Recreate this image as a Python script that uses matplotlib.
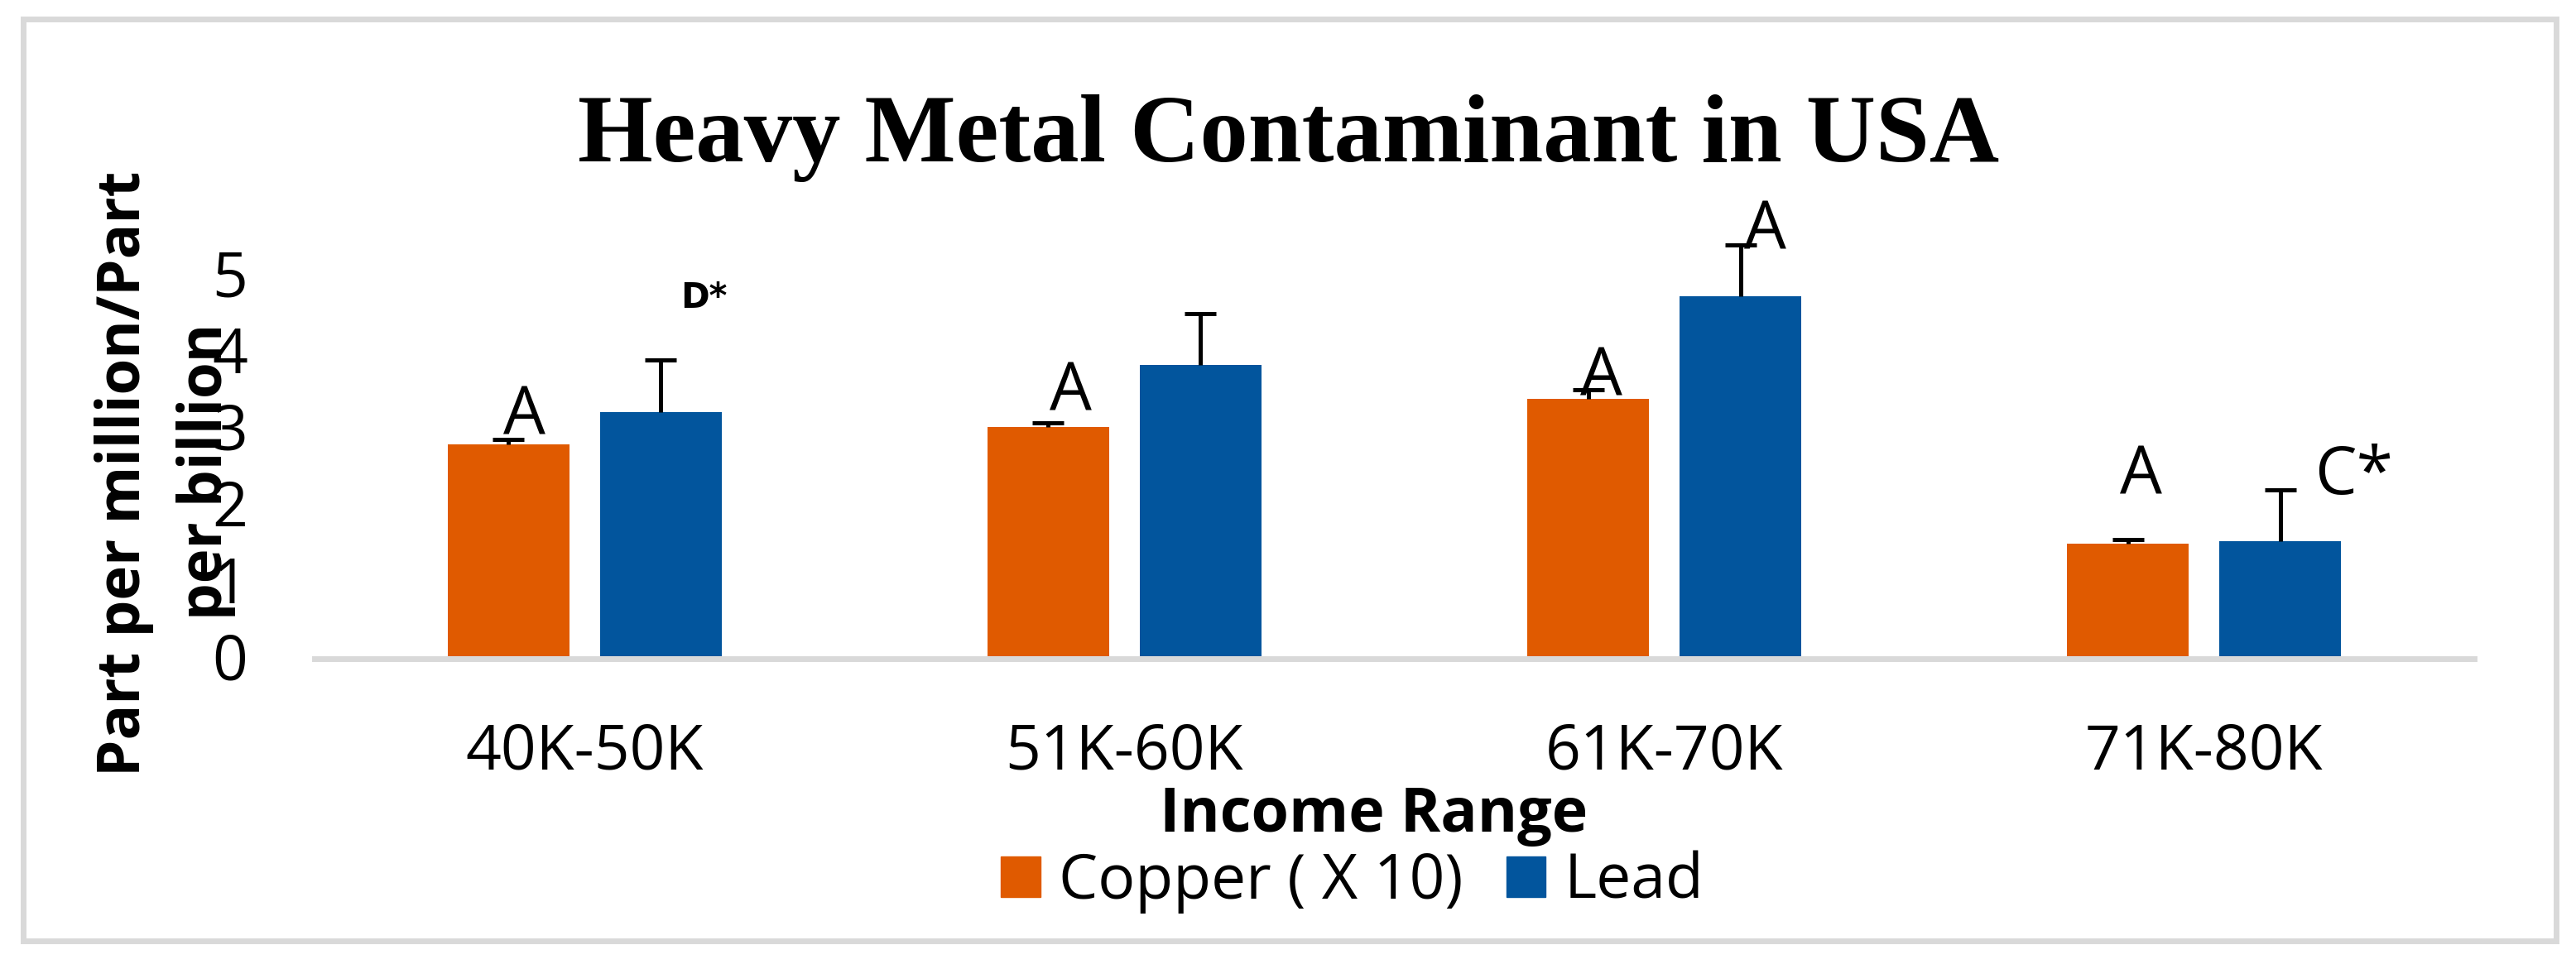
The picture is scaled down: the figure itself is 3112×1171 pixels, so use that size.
import matplotlib
matplotlib.use("Agg")
import matplotlib.pyplot as plt
import matplotlib.patches as mpatches
import numpy as np

# ---------------- data ----------------
categories = ["40K-50K", "51K-60K", "61K-70K", "71K-80K"]
copper_x10 = [2.76, 2.99, 3.36, 1.47]
copper_err = [0.07, 0.05, 0.12, 0.05]
lead = [3.19, 3.80, 4.70, 1.50]
lead_err = [0.68, 0.67, 0.67, 0.67]
series_names = ["Copper ( X 10)", "Lead"]
y_ticks = [0, 1, 2, 3, 4, 5]

# significance letters (text, value where label baseline sits)
copper_labels = ["A", "A", "A", "A"]
copper_label_y = [2.90, 3.21, 3.41, 2.12]
lead_labels = ["D*", "", "A", "C*"]
lead_label_y = [4.55, 0, 5.32, 2.12]

# ---------------- style ----------------
W, H = 3112, 1171
DPI = 100
ORANGE = "#E05A00"
BLUE = "#02559D"
GRAY = "#D9D9D9"
FONT = "Open Sans"

copper_label_dx = [0.029, 0.041, 0.024, 0.024]
lead_label_dx = [0.08, 0.0, 0.046, 0.136]

def fx(px):
    return px / W

def fy(py_top):
    return (H - py_top) / H

fig = plt.figure(figsize=(W / DPI, H / DPI), dpi=DPI)
fig.patch.set_facecolor("white")

# outer light-gray border
fig.patches.append(mpatches.Rectangle((fx(28), fy(1137)), fx(3088) - fx(28), fy(23) - fy(1137),
                                      transform=fig.transFigure, fill=False,
                                      edgecolor=GRAY, linewidth=5.0))

# axes placement
y0_px = 793.0
unit_px = 92.6
ymax = 6.0
ax_left, ax_right = 380.0, 2989.0
ax = fig.add_axes([fx(ax_left), fy(y0_px), fx(ax_right) - fx(ax_left), ymax * unit_px / H])
ax.set_xlim(-0.5, 3.5)
ax.set_ylim(0, ymax)

x = np.arange(len(categories))
bw = 0.2255
off = 0.141

ax.bar(x - off, copper_x10, width=bw, color=ORANGE, label=series_names[0], zorder=2)
ax.bar(x + off, lead, width=bw, color=BLUE, label=series_names[1], zorder=2)
for centers, vals, errs in [(x - off, copper_x10, copper_err), (x + off, lead, lead_err)]:
    _, caps, _ = ax.errorbar(centers, vals, yerr=[np.zeros(len(x)), errs], fmt="none",
                             ecolor="black", elinewidth=3.6, capsize=13.7, capthick=3.6,
                             zorder=3)
    # plus-direction only: hide the cap at the bar top
    caps[0].set_visible(False)

for i in range(len(x)):
    ax.text(x[i] - off + copper_label_dx[i], copper_label_y[i], copper_labels[i],
            ha="center", va="baseline", fontsize=58, family=FONT, clip_on=False, zorder=4)
    if lead_labels[i]:
        if lead_labels[i] == "D*":
            ax.text(x[i] + off + lead_label_dx[i], lead_label_y[i], lead_labels[i],
                    ha="center", va="baseline", fontsize=30, fontweight="bold",
                    family="DejaVu Sans", clip_on=False, zorder=4)
        else:
            ax.text(x[i] + off + lead_label_dx[i], lead_label_y[i], lead_labels[i],
                    ha="center", va="baseline", fontsize=58, family=FONT, clip_on=False, zorder=4)

# axes styling
for s in ["top", "right", "left"]:
    ax.spines[s].set_visible(False)
ax.spines["bottom"].set_color(GRAY)
ax.spines["bottom"].set_linewidth(5.0)
ax.spines["bottom"].set_position(("data", -0.035))
ax.set_xticks(x)
ax.set_xticklabels(categories, fontsize=54, family=FONT)
ax.set_yticks(y_ticks)
ax.set_yticklabels([str(t) for t in y_ticks], fontsize=54, family=FONT)
ax.tick_params(axis="both", length=0)
ax.tick_params(axis="y", pad=58)
ax.tick_params(axis="x", pad=55)
ax.set_facecolor("none")

# title
fig.text(fx(1557), fy(195), "Heavy Metal Contaminant in USA", ha="center", va="baseline",
         fontsize=84, fontweight="bold", family="Liberation Serif")

# x label
fig.text(fx(1660), fy(1005), "Income Range", ha="center", va="baseline",
         fontsize=53, fontweight="bold", family=FONT)

# y label (two lines)
fig.text(fx(169), fy(572), "Part per million/Part", rotation=90, rotation_mode="anchor",
         ha="center", va="baseline", fontsize=51, fontweight="bold", family=FONT)
fig.text(fx(268), fy(570), "per billion", rotation=90, rotation_mode="anchor",
         ha="center", va="baseline", fontsize=51, fontweight="bold", family=FONT)

# legend
handles = [mpatches.Patch(color=ORANGE), mpatches.Patch(color=BLUE)]
fig.legend(handles, series_names, loc="center", bbox_to_anchor=(fx(1634), fy(1066)),
           ncol=2, frameon=False, prop={"family": FONT, "size": 54},
           handlelength=0.63, handleheight=0.63, handletextpad=0.3, columnspacing=0.7,
           borderaxespad=0, borderpad=0)

fig.savefig("out.png", dpi=DPI, facecolor="white")
